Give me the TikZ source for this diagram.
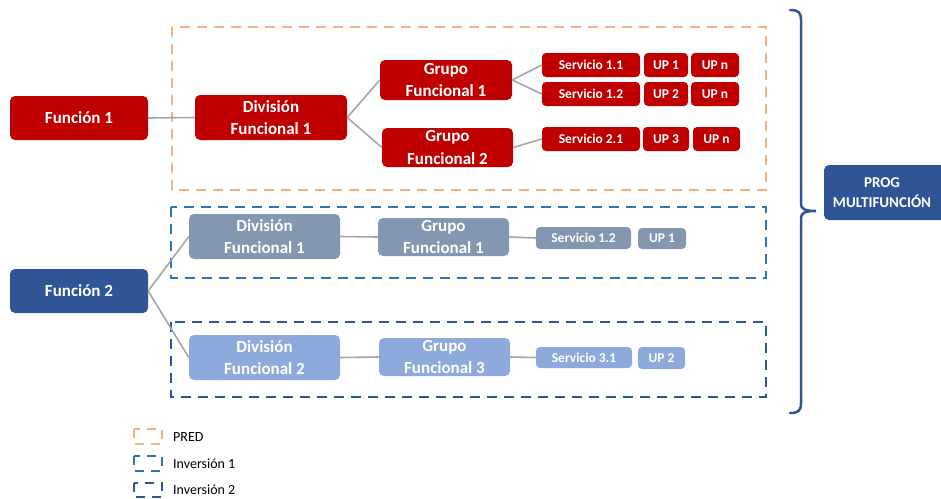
\documentclass[tikz,border=0pt]{standalone}
\usepackage{fontspec}
\setmainfont{Carlito}
\definecolor{cred}{HTML}{C00000}
\definecolor{cdark}{HTML}{2F5597}
\definecolor{cgray}{HTML}{8497B0}
\definecolor{clight}{HTML}{8EA9DB}
\definecolor{cpred}{HTML}{F4B183}
\definecolor{cinv}{HTML}{2E75B6}
\definecolor{cinvb}{HTML}{2F5597}
\definecolor{cline}{HTML}{A6A6A6}
\begin{document}
\begin{tikzpicture}[x=1pt,y=-1pt,
  box/.style={rounded corners=5pt, inner sep=0pt, align=center, text=white,
    font=\bfseries\fontsize{17}{22.5}\selectfont},
  sbox/.style={rounded corners=4pt, inner sep=0pt, align=center, text=white,
    font=\bfseries\fontsize{13.5}{15}\selectfont},
  conn/.style={draw=cline, line width=1.6pt},
  frame/.style={line width=2.6pt, dash pattern=on 10pt off 7pt},
  legicon/.style={line width=2.4pt, dash pattern=on 9pt off 7pt},
  legtext/.style={anchor=west, inner sep=0pt, font=\fontsize{14}{16}\selectfont}]
\useasboundingbox (0,0) rectangle (941,498);

% frames
\draw[frame, cpred] (172,27) rectangle (766,190);
\draw[frame, cinv] (171,207) rectangle (766,278);
\draw[frame, cinvb] (171,322) rectangle (766,397);

% Function 1 branch (red)
\node[box, fill=cred, minimum width=138pt, minimum height=44pt] (f1) at (79,118) {Función 1};
\node[box, fill=cred, minimum width=152pt, minimum height=45pt] (d1) at (271,117.5) {División\\Funcional 1};
\node[box, fill=cred, minimum width=132pt, minimum height=40pt] (g1) at (446,80) {Grupo\\Funcional 1};
\node[box, fill=cred, minimum width=131pt, minimum height=39pt] (g2) at (447.5,147.5) {Grupo\\Funcional 2};
\node[sbox, fill=cred, minimum width=98pt, minimum height=24pt] (s11) at (591,65) {Servicio 1.1};
\node[sbox, fill=cred, minimum width=44pt, minimum height=24pt] (u11) at (666,65) {UP 1};
\node[sbox, fill=cred, minimum width=48pt, minimum height=24pt] (un11) at (715,65) {UP n};
\node[sbox, fill=cred, minimum width=98pt, minimum height=24pt] (s12) at (591,94) {Servicio 1.2};
\node[sbox, fill=cred, minimum width=44pt, minimum height=24pt] (u12) at (666,94) {UP 2};
\node[sbox, fill=cred, minimum width=48pt, minimum height=24pt] (un12) at (715,94) {UP n};
\node[sbox, fill=cred, minimum width=98pt, minimum height=24pt] (s21) at (591,139) {Servicio 2.1};
\node[sbox, fill=cred, minimum width=46pt, minimum height=24pt] (u21) at (666,139) {UP 3};
\node[sbox, fill=cred, minimum width=47pt, minimum height=24pt] (un21) at (716.5,139) {UP n};

% Function 2 branch
\node[box, fill=cdark, minimum width=138pt, minimum height=44pt] (f2) at (79,291) {Función 2};
\node[box, fill=cgray, minimum width=151pt, minimum height=45pt] (gd1) at (264.5,236.5) {División\\Funcional 1};
\node[box, fill=cgray, minimum width=131pt, minimum height=38pt] (gg1) at (443.5,237) {Grupo\\Funcional 1};
\node[sbox, fill=cgray, minimum width=95pt, minimum height=22pt] (gs12) at (583.5,238) {Servicio 1.2};
\node[sbox, fill=cgray, minimum width=48pt, minimum height=21pt] (gu1) at (662,238.5) {UP 1};
\node[box, fill=clight, minimum width=151pt, minimum height=45pt] (ld2) at (264.5,357.5) {División\\Funcional 2};
\node[box, fill=clight, minimum width=131pt, minimum height=38pt] (lg3) at (444.5,357) {Grupo\\Funcional 3};
\node[sbox, fill=clight, minimum width=96pt, minimum height=21pt] (ls31) at (584,357.5) {Servicio 3.1};
\node[sbox, fill=clight, minimum width=47pt, minimum height=22pt] (lu2) at (661.5,358) {UP 2};

% connectors
\draw[conn] (f1.east) -- (d1.west);
\draw[conn] (d1.east) -- (g1.west);
\draw[conn] (d1.east) -- (g2.west);
\draw[conn] (g1.east) -- (s11.west);
\draw[conn] (g1.east) -- (s12.west);
\draw[conn] (g2.east) -- (s21.west);
\draw[conn] (f2.east) -- (gd1.west);
\draw[conn] (f2.east) -- (ld2.west);
\draw[conn] (gd1.east) -- (gg1.west);
\draw[conn] (gg1.east) -- (gs12.west);
\draw[conn] (ld2.east) -- (lg3.west);
\draw[conn] (lg3.east) -- (ls31.west);

% brace and PROG
\draw[cdark, line width=2.5pt, line cap=round]
  (790,10) .. controls (798,10) and (801,12) .. (801,20) -- (801,204)
  .. controls (801,209) and (805,211) .. (816,211)
  .. controls (805,211) and (801,213) .. (801,218) -- (801,403)
  .. controls (801,411) and (798,413) .. (790,413);
\node[box, fill=cdark, minimum width=122pt, minimum height=55pt] (prog) at (885,192.5) {};
\node[inner sep=0pt, align=center, text=white,
  font=\bfseries\fontsize{15}{20}\selectfont] (progt) at (882,193) {PROG\\MULTIFUNCIÓN};

% legend
\draw[legicon, cpred] (134,429) rectangle (162,444);
\node[legtext] (l1) at (173,437) {PRED};
\draw[legicon, cinv] (134,456) rectangle (162,471);
\node[legtext] (l2) at (173,464) {Inversión 1};
\draw[legicon, cinvb] (134,483) rectangle (162,497);
\node[legtext] (l3) at (173,490) {Inversión 2};
\end{tikzpicture}
\end{document}
